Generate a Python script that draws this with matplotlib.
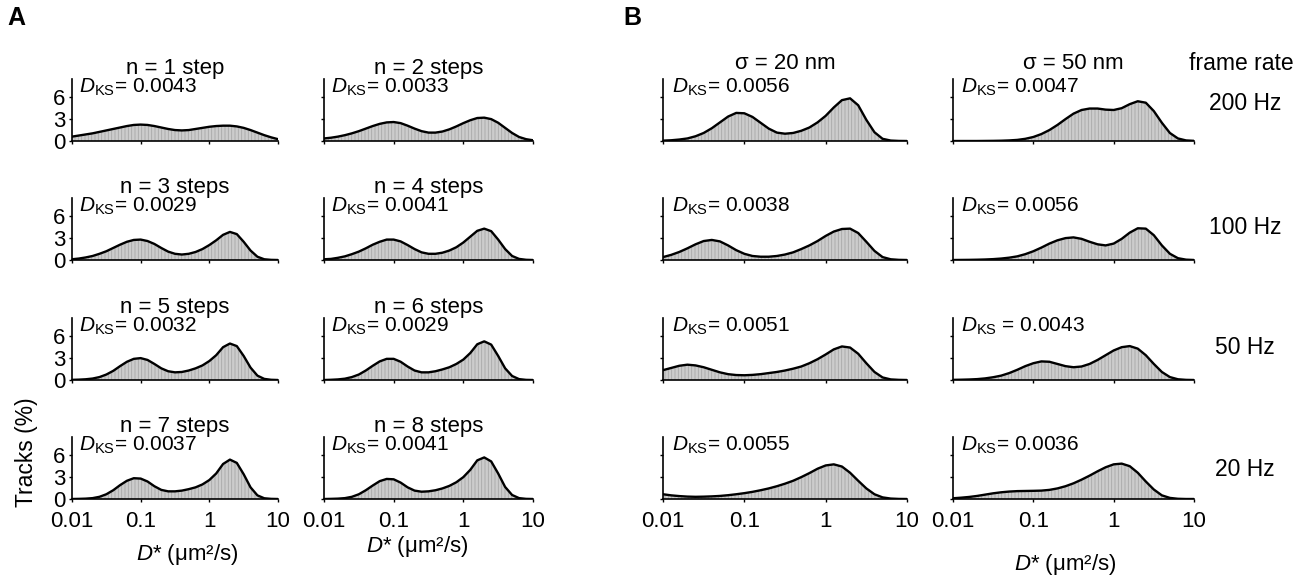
import numpy as np
import matplotlib.pyplot as plt
from matplotlib.ticker import NullLocator

plt.rcParams['font.family'] = ['Liberation Sans', 'DejaVu Sans']
plt.rcParams['mathtext.fontset'] = 'custom'
plt.rcParams['mathtext.rm'] = 'Liberation Sans'
plt.rcParams['mathtext.it'] = 'Liberation Sans:italic'
plt.rcParams['hatch.linewidth'] = 0.6

# sample positions, log10(D*) in um^2/s
log_d = [-2.0, -1.9, -1.8, -1.7, -1.6, -1.5, -1.4, -1.3, -1.2, -1.1, -1.0,
         -0.9, -0.8, -0.7, -0.6, -0.5, -0.4, -0.3, -0.2, -0.1, 0.0,
         0.1, 0.2, 0.3, 0.4, 0.5, 0.6, 0.7, 0.8, 0.9, 1.0]

# ---- panel A: tracks (%) for n = 1..8 steps
n1 = [0.6, 0.75, 0.9, 1.05, 1.25, 1.45, 1.65, 1.85, 2.05, 2.2, 2.25,
      2.2, 2.05, 1.85, 1.65, 1.5, 1.45, 1.5, 1.65, 1.8, 1.95,
      2.05, 2.1, 2.1, 2.0, 1.8, 1.5, 1.15, 0.8, 0.5, 0.25]
n2 = [0.35, 0.45, 0.6, 0.8, 1.05, 1.35, 1.7, 2.05, 2.35, 2.55, 2.6,
      2.45, 2.1, 1.7, 1.35, 1.15, 1.15, 1.3, 1.6, 2.0, 2.45,
      2.85, 3.15, 3.2, 3.0, 2.5, 1.8, 1.1, 0.55, 0.25, 0.1]
n3 = [0.1, 0.2, 0.35, 0.55, 0.85, 1.2, 1.65, 2.1, 2.5, 2.75, 2.8,
      2.6, 2.2, 1.65, 1.15, 0.85, 0.75, 0.85, 1.1, 1.5, 2.05,
      2.7, 3.45, 3.85, 3.55, 2.5, 1.3, 0.45, 0.1, 0.02, 0.0]
n4 = [0.1, 0.15, 0.3, 0.5, 0.8, 1.15, 1.6, 2.1, 2.5, 2.8, 2.8,
      2.55, 2.05, 1.5, 1.05, 0.85, 0.85, 1.0, 1.3, 1.75, 2.4,
      3.2, 4.0, 4.3, 3.95, 2.8, 1.5, 0.55, 0.15, 0.03, 0.0]
n5 = [0.02, 0.05, 0.1, 0.2, 0.4, 0.75, 1.25, 1.9, 2.5, 2.9, 3.0,
      2.75, 2.2, 1.6, 1.2, 1.05, 1.1, 1.3, 1.6, 2.0, 2.6,
      3.4, 4.5, 5.0, 4.65, 3.3, 1.7, 0.6, 0.15, 0.03, 0.0]
n6 = [0.0, 0.03, 0.08, 0.18, 0.4, 0.75, 1.3, 1.95, 2.55, 2.9, 2.9,
      2.5, 1.85, 1.3, 1.05, 1.05, 1.2, 1.45, 1.75, 2.2, 2.8,
      3.7, 4.9, 5.3, 4.85, 3.3, 1.6, 0.55, 0.12, 0.02, 0.0]
n7 = [0.0, 0.02, 0.05, 0.12, 0.3, 0.65, 1.2, 1.9, 2.5, 2.85, 2.8,
      2.4, 1.75, 1.25, 1.05, 1.05, 1.15, 1.35, 1.6, 2.0, 2.6,
      3.5, 4.8, 5.4, 4.95, 3.4, 1.6, 0.5, 0.1, 0.02, 0.0]
n8 = [0.0, 0.02, 0.05, 0.12, 0.3, 0.65, 1.2, 1.85, 2.45, 2.75, 2.7,
      2.25, 1.6, 1.15, 1.0, 1.05, 1.2, 1.45, 1.8, 2.3, 3.0,
      4.0, 5.3, 5.7, 5.15, 3.5, 1.65, 0.55, 0.12, 0.02, 0.0]

a_series = [n1, n2, n3, n4, n5, n6, n7, n8]
a_titles = ['n = 1 step', 'n = 2 steps', 'n = 3 steps', 'n = 4 steps',
            'n = 5 steps', 'n = 6 steps', 'n = 7 steps', 'n = 8 steps']
a_dks = ['0.0043', '0.0033', '0.0029', '0.0041',
         '0.0032', '0.0029', '0.0037', '0.0041']

# ---- panel B: sigma = 20 nm / 50 nm at four frame rates
s20_200 = [0.05, 0.1, 0.2, 0.35, 0.65, 1.1, 1.75, 2.55, 3.35, 3.85, 3.8,
           3.3, 2.5, 1.7, 1.15, 1.0, 1.1, 1.4, 1.85, 2.55, 3.45,
           4.6, 5.6, 5.85, 4.9, 2.9, 1.2, 0.3, 0.06, 0.01, 0.0]
s20_100 = [0.4, 0.7, 1.1, 1.6, 2.15, 2.6, 2.75, 2.55, 2.0, 1.35, 0.85,
           0.55, 0.45, 0.45, 0.55, 0.75, 1.05, 1.5, 2.0, 2.6, 3.3,
           3.9, 4.25, 4.3, 3.7, 2.5, 1.25, 0.4, 0.1, 0.02, 0.0]
s20_50 = [1.35, 1.65, 1.95, 2.1, 2.0, 1.75, 1.4, 1.05, 0.8, 0.68, 0.65,
          0.7, 0.8, 0.95, 1.1, 1.3, 1.55, 1.85, 2.3, 2.85, 3.5,
          4.2, 4.6, 4.45, 3.6, 2.3, 1.1, 0.35, 0.08, 0.02, 0.0]
s20_20 = [0.65, 0.5, 0.4, 0.33, 0.3, 0.32, 0.36, 0.42, 0.52, 0.65, 0.8,
          0.98, 1.2, 1.45, 1.75, 2.1, 2.5, 3.0, 3.55, 4.15, 4.6,
          4.75, 4.45, 3.6, 2.5, 1.45, 0.65, 0.22, 0.06, 0.01, 0.0]
s50_200 = [0.0, 0.0, 0.0, 0.0, 0.01, 0.02, 0.04, 0.08, 0.15, 0.3, 0.55,
           0.95, 1.5, 2.2, 3.0, 3.75, 4.25, 4.45, 4.45, 4.3, 4.25,
           4.5, 5.05, 5.45, 5.25, 4.1, 2.5, 1.1, 0.35, 0.08, 0.02]
s50_100 = [0.0, 0.01, 0.02, 0.04, 0.07, 0.12, 0.2, 0.32, 0.5, 0.8, 1.2,
           1.7, 2.25, 2.7, 3.0, 3.1, 2.9, 2.5, 2.15, 2.0, 2.25,
           2.9, 3.75, 4.35, 4.3, 3.4, 2.0, 0.85, 0.25, 0.05, 0.0]
s50_50 = [0.02, 0.04, 0.07, 0.12, 0.22, 0.38, 0.6, 0.95, 1.4, 1.9, 2.3,
          2.55, 2.5, 2.2, 1.9, 1.75, 1.85, 2.2, 2.75, 3.4, 4.05,
          4.5, 4.65, 4.3, 3.4, 2.2, 1.1, 0.4, 0.1, 0.02, 0.0]
s50_20 = [0.1, 0.18, 0.28, 0.42, 0.6, 0.78, 0.92, 1.02, 1.08, 1.1, 1.12,
          1.15, 1.25, 1.45, 1.75, 2.15, 2.65, 3.2, 3.8, 4.35, 4.75,
          4.85, 4.5, 3.6, 2.4, 1.3, 0.5, 0.15, 0.03, 0.0, 0.0]

b_series = [[s20_200, s20_100, s20_50, s20_20],
            [s50_200, s50_100, s50_50, s50_20]]
b_titles = ['σ = 20 nm', 'σ = 50 nm']
b_dks = [['= 0.0056', '= 0.0038', '= 0.0051', '= 0.0055'],
         ['= 0.0047', '= 0.0056', ' = 0.0043', '= 0.0036']]
frame_rates = ['200 Hz', '100 Hz', '50 Hz', '20 Hz']

x_ticks = [0.01, 0.1, 1, 10]
x_ticklabels = ['0.01', '0.1', '1', '10']
y_ticks = [0, 3, 6]

W, H = 1312, 577
fig = plt.figure(figsize=(W / 100, H / 100), dpi=100)

row_base = [141, 260, 380, 499]
ax_h = 62
a_cols = [(72, 206), (324, 209)]
b_cols = [(663, 244), (953, 241)]

d = 10 ** np.array(log_d)


def make_ax(left, width, base):
    ax = fig.add_axes([left / W, 1 - base / H, width / W, ax_h / H])
    ax.set_xscale('log')
    ax.set_xlim(0.01, 10)
    ax.set_ylim(0, 8.5)
    for s in ['top', 'right']:
        ax.spines[s].set_visible(False)
    for s in ['left', 'bottom']:
        ax.spines[s].set_linewidth(1.2)
    ax.set_xticks(x_ticks)
    ax.xaxis.set_minor_locator(NullLocator())
    ax.set_yticks(y_ticks)
    ax.tick_params(axis='both', direction='out', length=2.5, width=1,
                   labelsize=16)
    ax.tick_params(axis='x', pad=6)
    ax.tick_params(axis='y', pad=2)
    return ax


def draw_hist(ax, vals):
    ax.fill_between(d, 0, vals, facecolor='#cccccc', edgecolor='#a8a8a8',
                    hatch='|||||', linewidth=0, zorder=1)
    ax.plot(d, vals, color='black', lw=1.7, zorder=3,
            solid_joinstyle='round')


# panel A
for i, vals in enumerate(a_series):
    r, c = divmod(i, 2)
    left, width = a_cols[c]
    ax = make_ax(left, width, row_base[r])
    draw_hist(ax, vals)
    ax.set_title(a_titles[i], fontsize=16, pad=3)
    ax.text(0.035, 1.03, r'$D_{\rm KS}$= ' + a_dks[i], transform=ax.transAxes,
            ha='left', va='top', fontsize=15)
    if c == 0:
        ax.set_yticklabels([str(t) for t in y_ticks])
    else:
        ax.set_yticklabels([])
    if r == 3:
        ax.set_xticklabels(x_ticklabels)
        ax.set_xlabel(r'$D$* (μm²/s)', fontsize=16)
        if c == 0:
            ax.xaxis.set_label_coords(0.56, -0.69)
        else:
            ax.xaxis.set_label_coords(0.445, -0.565)
    else:
        ax.set_xticklabels([])

# panel B
for c in range(2):
    left, width = b_cols[c]
    for r in range(4):
        ax = make_ax(left, width, row_base[r])
        draw_hist(ax, b_series[c][r])
        ax.set_yticklabels([])
        ax.text(0.035, 1.03, r'$D_{\rm KS}$' + b_dks[c][r],
                transform=ax.transAxes, ha='left', va='top', fontsize=15)
        if r == 0:
            ax.set_title(b_titles[c], fontsize=16, pad=7)
        if r == 3:
            ax.set_xticklabels(x_ticklabels)
            if c == 1:
                ax.set_xlabel(r'$D$* (μm²/s)', fontsize=16)
                ax.xaxis.set_label_coords(0.465, -0.855)
        else:
            ax.set_xticklabels([])

fig.text(1241 / W, 1 - 63 / H, 'frame rate', ha='center', va='center',
         fontsize=16.5)
for y, lab in zip([104, 228, 348, 470], frame_rates):
    fig.text(1245 / W, 1 - y / H, lab, ha='center', va='center', fontsize=16.5)

fig.text(27 / W, 1 - 452 / H, 'Tracks (%)', rotation=90, ha='center',
         va='center', fontsize=16.5)
fig.text(16 / W, 1 - 18 / H, 'A', ha='center', va='center', fontsize=18,
         fontweight='bold')
fig.text(632 / W, 1 - 18 / H, 'B', ha='center', va='center', fontsize=18,
         fontweight='bold')

fig.savefig('out.png', dpi=100)
